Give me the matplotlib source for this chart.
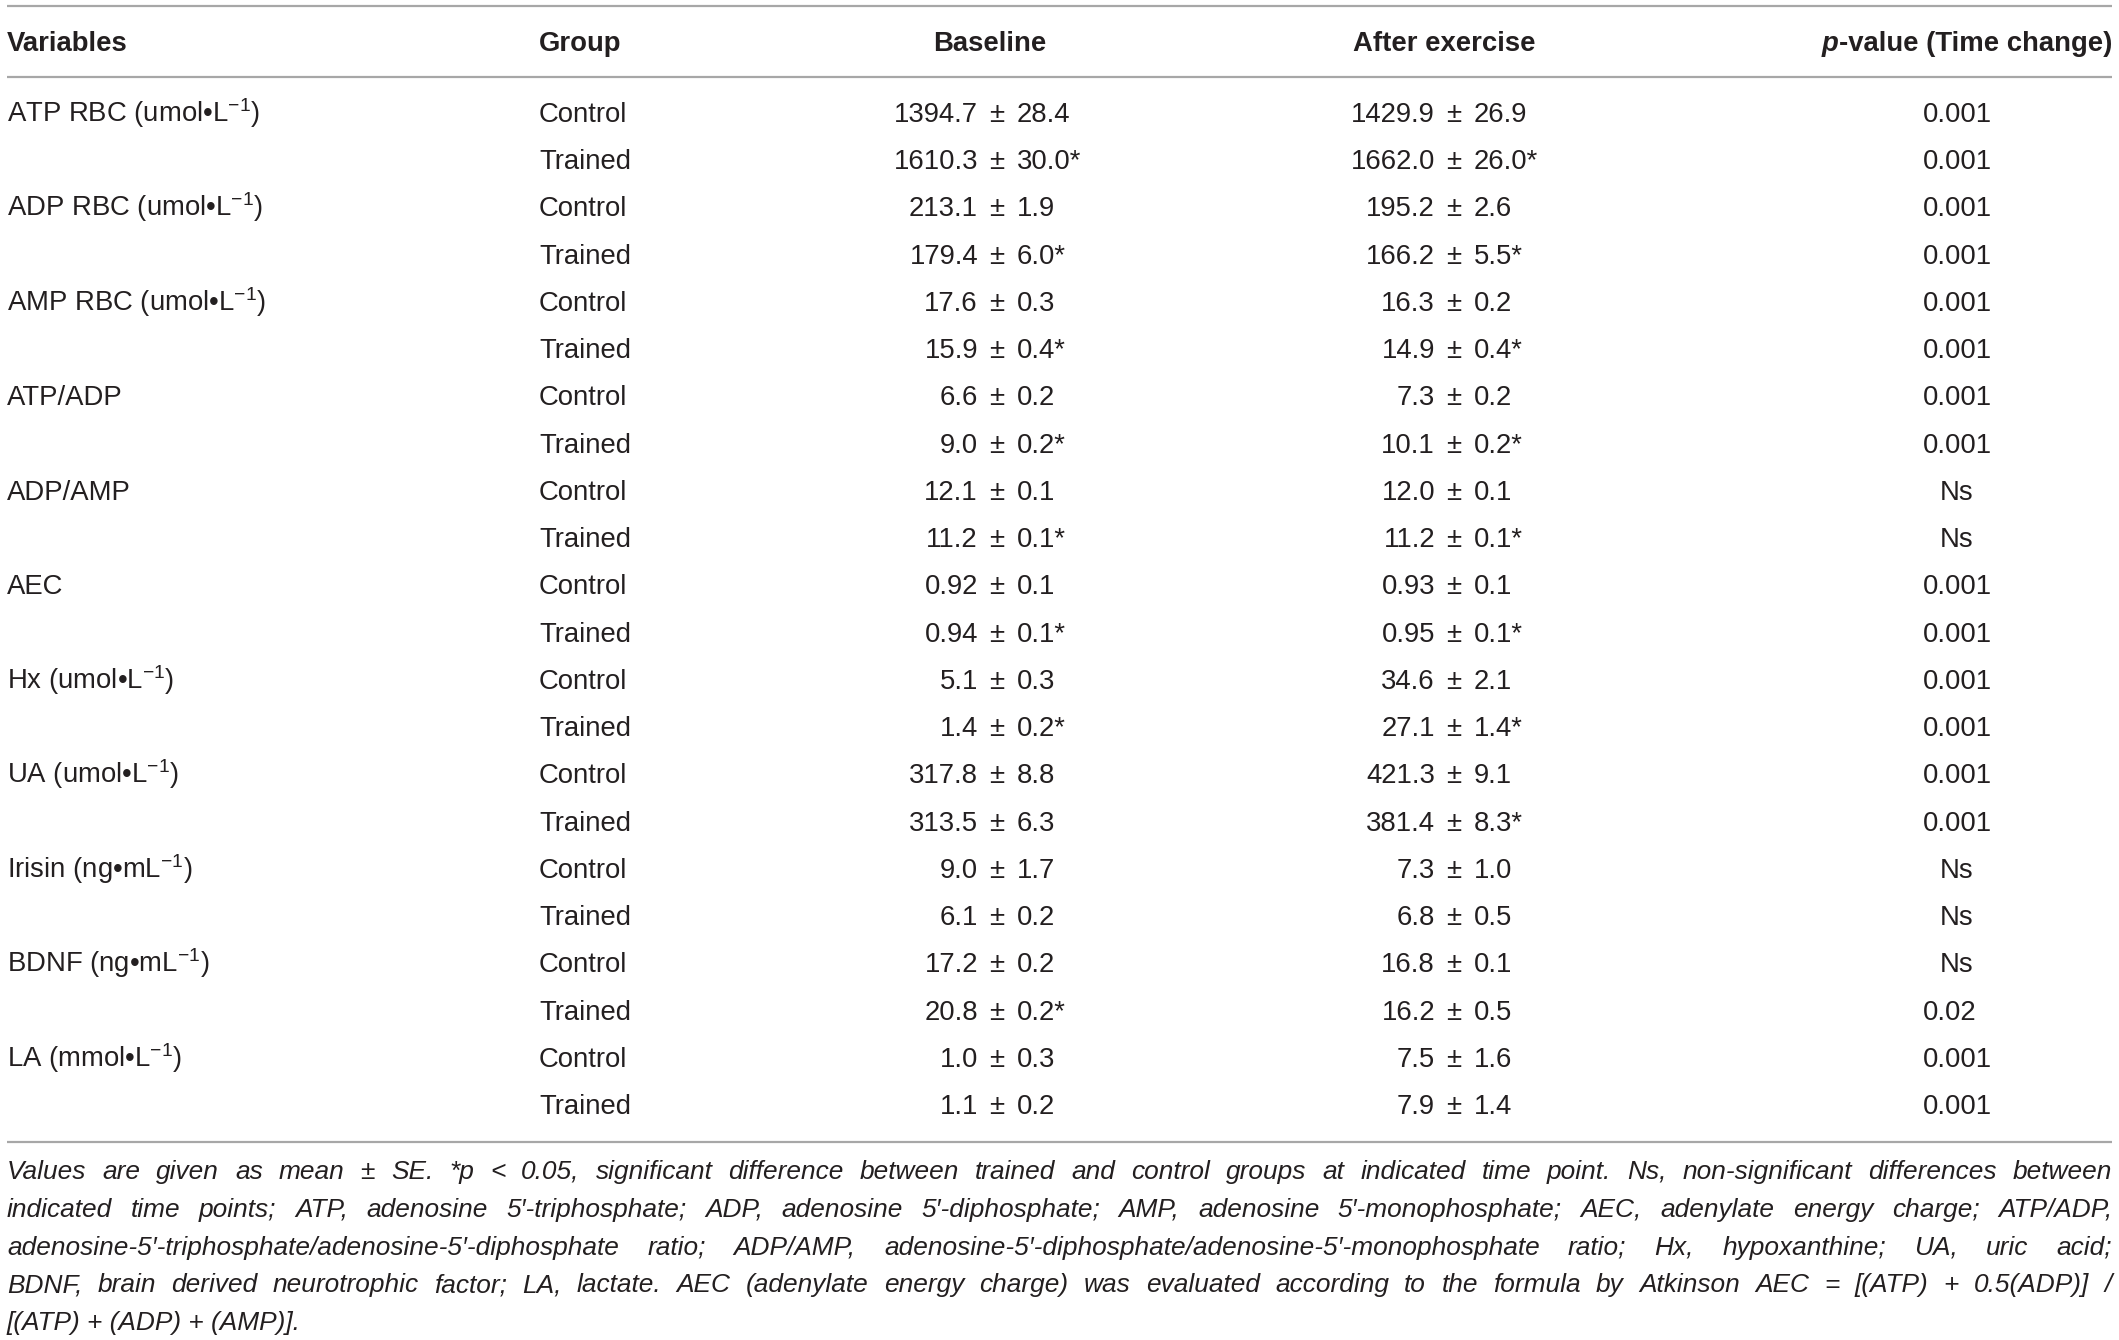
import matplotlib
matplotlib.use("Agg")
import matplotlib.pyplot as plt

# ── Table content ──────────────────────────────────────────────────────────
variables = ["ATP RBC (umol•L$^{-1}$)", "ADP RBC (umol•L$^{-1}$)",
             "AMP RBC (umol•L$^{-1}$)", "ATP/ADP", "ADP/AMP", "AEC",
             "Hx (umol•L$^{-1}$)", "UA (umol•L$^{-1}$)",
             "Irisin (ng•mL$^{-1}$)", "BDNF (ng•mL$^{-1}$)",
             "LA (mmol•L$^{-1}$)"]
groups = ["Control", "Trained"]

base_mean = ["1394.7", "1610.3", "213.1", "179.4", "17.6", "15.9", "6.6", "9.0",
             "12.1", "11.2", "0.92", "0.94", "5.1", "1.4", "317.8", "313.5",
             "9.0", "6.1", "17.2", "20.8", "1.0", "1.1"]
base_se = ["28.4", "30.0", "1.9", "6.0", "0.3", "0.4", "0.2", "0.2", "0.1", "0.1",
           "0.1", "0.1", "0.3", "0.2", "8.8", "6.3", "1.7", "0.2", "0.2", "0.2",
           "0.3", "0.2"]
base_sig = [0, 1, 0, 1, 0, 1, 0, 1, 0, 1, 0, 1, 0, 1, 0, 0, 0, 0, 0, 1, 0, 0]

after_mean = ["1429.9", "1662.0", "195.2", "166.2", "16.3", "14.9", "7.3", "10.1",
              "12.0", "11.2", "0.93", "0.95", "34.6", "27.1", "421.3", "381.4",
              "7.3", "6.8", "16.8", "16.2", "7.5", "7.9"]
after_se = ["26.9", "26.0", "2.6", "5.5", "0.2", "0.4", "0.2", "0.2", "0.1", "0.1",
            "0.1", "0.1", "2.1", "1.4", "9.1", "8.3", "1.0", "0.5", "0.1", "0.5",
            "1.6", "1.4"]
after_sig = [0, 1, 0, 1, 0, 1, 0, 1, 0, 1, 0, 1, 0, 1, 0, 1, 0, 0, 0, 0, 0, 0]

p_values = ["0.001", "0.001", "0.001", "0.001", "0.001", "0.001", "0.001", "0.001",
            "Ns", "Ns", "0.001", "0.001", "0.001", "0.001", "0.001", "0.001",
            "Ns", "Ns", "Ns", "0.02", "0.001", "0.001"]

footnote_lines = [
    "Values are given as mean ± SE. *p < 0.05, significant difference between trained and control groups at indicated time point. Ns, non-significant differences between",
    "indicated time points; ATP, adenosine 5′-triphosphate; ADP, adenosine 5′-diphosphate; AMP, adenosine 5′-monophosphate; AEC, adenylate energy charge; ATP/ADP,",
    "adenosine-5′-triphosphate/adenosine-5′-diphosphate ratio; ADP/AMP, adenosine-5′-diphosphate/adenosine-5′-monophosphate ratio; Hx, hypoxanthine; UA, uric acid;",
    "BDNF, brain derived neurotrophic factor; LA, lactate. AEC (adenylate energy charge) was evaluated according to the formula by Atkinson AEC = [(ATP) + 0.5(ADP)] /",
    "[(ATP) + (ADP) + (AMP)].",
]

# ── Layout (pixels) ────────────────────────────────────────────────────────
W, H = 2119, 1340
X_LEFT, X_RIGHT = 7, 2112
X_GROUP = 539
X_BASE_PM, X_AFTER_PM = 978, 1435     # right edge of the mean
X_BASE_HDR, X_AFTER_HDR = 990, 1444
X_P_LEFT, X_P_CENTER = 1923, 1957
Y_RULES = [6, 77, 1142]
Y_HDR = 51
Y_ROW0, ROW_H = 122, 47.24
FOOT_Y0, FOOT_H = 1179, 37.8

INK = "#231f20"
RULE = "#a7a7a7"
FS = 19.8
FS_FOOT = 18.9

plt.rcParams["font.family"] = ["Liberation Sans", "DejaVu Sans"]
plt.rcParams["mathtext.fontset"] = "custom"
plt.rcParams["mathtext.rm"] = "Liberation Sans"
plt.rcParams["mathtext.it"] = "Liberation Sans:italic"
plt.rcParams["mathtext.bf"] = "Liberation Sans:bold"

fig = plt.figure(figsize=(W / 100, H / 100), dpi=100)
ax = fig.add_axes([0, 0, 1, 1])
ax.set_xlim(0, W)
ax.set_ylim(H, 0)
ax.axis("off")
renderer = fig.canvas.get_renderer()

for y in Y_RULES:
    ax.plot([X_LEFT, X_RIGHT], [y, y], color=RULE, linewidth=1.6,
            solid_capstyle="butt")

# Header
hdr = dict(fontsize=FS, fontweight="bold", color=INK, va="baseline")
ax.text(X_LEFT, Y_HDR, "Variables", ha="left", **hdr)
ax.text(X_GROUP, Y_HDR, "Group", ha="left", **hdr)
ax.text(X_BASE_HDR, Y_HDR, "Baseline", ha="center", **hdr)
ax.text(X_AFTER_HDR, Y_HDR, "After exercise", ha="center", **hdr)
t = ax.text(X_RIGHT, Y_HDR, "-value (Time change)", ha="right", **hdr)
bb = t.get_window_extent(renderer)
ax.text(bb.x0, Y_HDR, "p", ha="right", fontstyle="italic", **hdr)

# Body: mean | ± | SE, lined up on the ± sign
body = dict(fontsize=FS, color=INK, va="baseline")
for i in range(len(base_mean)):
    y = Y_ROW0 + i * ROW_H
    if i % 2 == 0:
        ax.text(X_LEFT, y, variables[i // 2], ha="left", **body)
    ax.text(X_GROUP, y, groups[i % 2], ha="left", **body)

    for xm, mean, se, sig in [(X_BASE_PM, base_mean[i], base_se[i], base_sig[i]),
                              (X_AFTER_PM, after_mean[i], after_se[i], after_sig[i])]:
        ax.text(xm, y, mean, ha="right", **body)
        ax.text(xm + 11, y, "±", ha="left", **body)
        ax.text(xm + 39, y, se + ("*" if sig else ""), ha="left", **body)

    if p_values[i] == "Ns":
        ax.text(X_P_CENTER, y, p_values[i], ha="center", **body)
    else:
        ax.text(X_P_LEFT, y, p_values[i], ha="left", **body)

# Footnote, justified to the full width except the last line
foot = dict(fontsize=FS_FOOT, color=INK, va="baseline", fontstyle="italic")
for k, line in enumerate(footnote_lines):
    y = FOOT_Y0 + k * FOOT_H
    if k == len(footnote_lines) - 1:
        ax.text(X_LEFT, y, line, ha="left", **foot)
        continue
    words = line.split(" ")
    items = [ax.text(0, y, w, ha="left", **foot) for w in words]
    widths = [it.get_window_extent(renderer).width for it in items]
    gap = (X_RIGHT - X_LEFT - sum(widths)) / (len(words) - 1)
    x = X_LEFT
    for it, w in zip(items, widths):
        it.set_x(x)
        x += w + gap

fig.savefig("out.png", dpi=100, facecolor="white")
